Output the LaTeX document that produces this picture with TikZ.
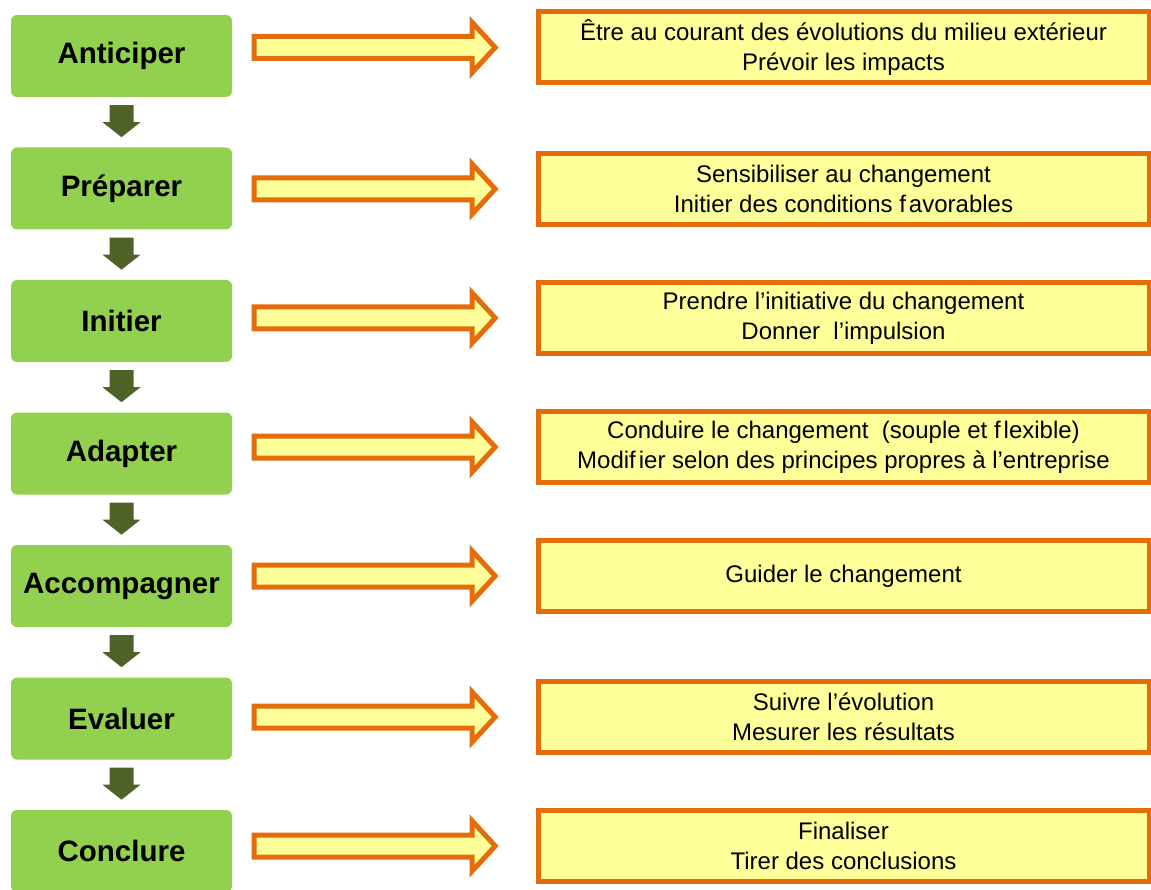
\documentclass[tikz,border=0pt]{standalone}
\usepackage{fontspec}
\setmainfont{Liberation Sans}
\usetikzlibrary{calc}
\definecolor{boxgreen}{HTML}{92D050}
\definecolor{darkgreen}{HTML}{4F6228}
\definecolor{borderorange}{HTML}{E46C0A}
\definecolor{paleyellow}{HTML}{FFFF99}
\tikzset{
  stagebox/.style={fill=boxgreen, draw=none, rounded corners=6pt,
    minimum width=221pt, minimum height=82pt, inner sep=0pt,
    font=\fontsize{29.5pt}{32pt}\selectfont\bfseries},
  descbox/.style={fill=paleyellow, draw=borderorange, line width=5pt,
    minimum width=611pt, minimum height=71pt, inner sep=0pt, align=center,
    font=\fontsize{24pt}{30pt}\selectfont},
  blockarrow/.style={fill=paleyellow, draw=borderorange, line width=5pt, line join=miter},
  downarrow/.style={fill=darkgreen, draw=none}
}
\newcommand\blockarr[2]{\draw[blockarrow] ($(#1.east |- #2.west)+(22,-11)$) -- ++(218,0) -- ++(0,-14) -- ++(23,25) -- ++(-23,25) -- ++(0,-14) -- ++(-218,0) -- cycle;}
\newcommand\downarr[2]{\fill[downarrow] ($(#1.south)+(-12,8)$) -- ++(24,0) -- ++(0,17) -- ++(7,0) -- ++(-19,15) -- ++(-19,-15) -- ++(7,0) -- cycle;}
\begin{document}
\begin{tikzpicture}[x=1pt, y=-1pt]
\useasboundingbox (0,0) rectangle (1151,890);
% stage boxes
\node[stagebox] (g1) at (121.5,56) {Anticiper};
\node[stagebox] (g2) at (121.5,188.5) {Préparer};
\node[stagebox] (g3) at (121.5,321) {Initier};
\node[stagebox] (g4) at (121.5,453.5) {Adapter};
\node[stagebox] (g5) at (121.5,586) {Accompagner};
\node[stagebox] (g6) at (121.5,718.5) {Evaluer};
\node[stagebox] (g7) at (121.5,851) {Conclure};
% description boxes
\node[descbox] (y1) at (843.5,47.5) {Être au courant des évolutions du milieu extérieur\\Prévoir les impacts};
\node[descbox] (y2) at (843.5,189) {Sensibiliser au changement\\Initier des conditions f\kern3pt avorables};
\node[descbox] (y3) at (843.5,318) {Prendre l’initiative du changement\\Donner\ \ l’impulsion};
\node[descbox] (y4) at (843.5,447) {Conduire le changement\ \ (souple et f\kern3pt lexible)\\Modif\kern3pt ier selon des principes propres à l’entreprise};
\node[descbox] (y5) at (843.5,576) {Guider le changement};
\node[descbox] (y6) at (843.5,717) {Suivre l’évolution\\Mesurer les résultats};
\node[descbox] (y7) at (843.5,846) {Finaliser\\Tirer des conclusions};
% down arrows
\downarr{g1}{g2}
\downarr{g2}{g3}
\downarr{g3}{g4}
\downarr{g4}{g5}
\downarr{g5}{g6}
\downarr{g6}{g7}
% block arrows
\blockarr{g1}{y1}
\blockarr{g2}{y2}
\blockarr{g3}{y3}
\blockarr{g4}{y4}
\blockarr{g5}{y5}
\blockarr{g6}{y6}
\blockarr{g7}{y7}
\end{tikzpicture}
\end{document}
